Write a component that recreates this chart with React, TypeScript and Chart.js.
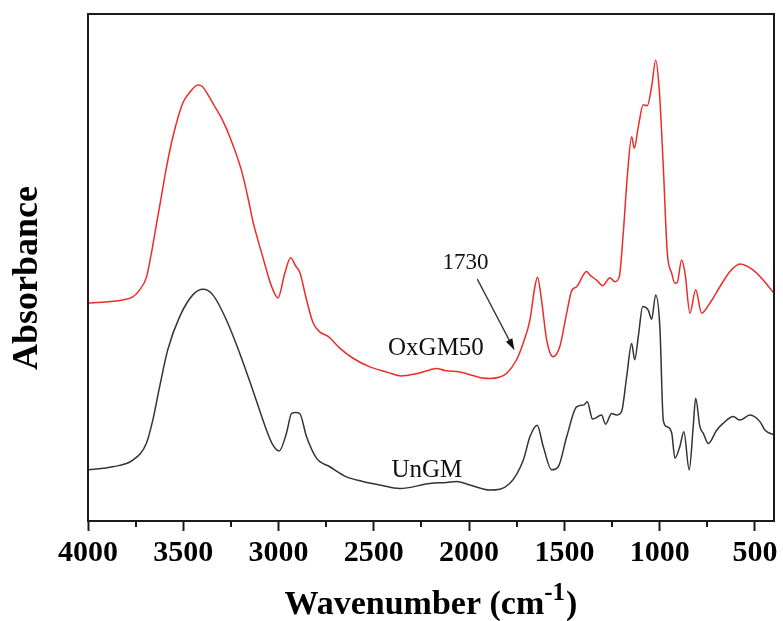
import { useEffect, useRef } from 'react';
import { Chart, registerables } from 'chart.js';

Chart.register(...registerables);

// FTIR spectra, absorbance in arbitrary (offset) units
const OX_WAVENUMBER = [
  4000, 3912, 3818, 3765, 3729, 3693, 3667, 3641, 3615, 3588, 3555, 3503, 3465, 3423, 3400,
  3345, 3300, 3256, 3195, 3162, 3135, 3083, 3036, 3003, 2967, 2937, 2910, 2889, 2853, 2819,
  2784, 2740, 2679, 2609, 2521, 2433, 2355, 2285, 2206, 2171, 2127, 2049, 1928, 1891, 1839,
  1804, 1751, 1716, 1681, 1655, 1641, 1620, 1593, 1559, 1524, 1488, 1462, 1436, 1383, 1366,
  1331, 1299, 1261, 1235, 1212, 1191, 1170, 1147, 1133, 1112, 1086, 1065, 1042, 1021, 1002,
  981, 960, 937, 920, 908, 885, 867, 841, 811, 780, 736, 684, 631, 579, 509, 456, 400,
];
const OX_ABSORBANCE = [
  0.430, 0.432, 0.436, 0.442, 0.456, 0.481, 0.529, 0.585, 0.640, 0.698, 0.757, 0.824, 0.846, 0.860, 0.857,
  0.824, 0.795, 0.758, 0.692, 0.640, 0.592, 0.521, 0.462, 0.440, 0.489, 0.519, 0.503, 0.491, 0.436, 0.391,
  0.373, 0.364, 0.341, 0.321, 0.304, 0.294, 0.286, 0.290, 0.298, 0.301, 0.297, 0.294, 0.282, 0.281, 0.284,
  0.291, 0.318, 0.351, 0.396, 0.462, 0.481, 0.436, 0.357, 0.324, 0.344, 0.410, 0.454, 0.462, 0.492, 0.485,
  0.475, 0.464, 0.480, 0.472, 0.482, 0.568, 0.679, 0.758, 0.735, 0.778, 0.821, 0.819, 0.857, 0.909, 0.850,
  0.699, 0.529, 0.489, 0.469, 0.470, 0.515, 0.489, 0.410, 0.456, 0.410, 0.430, 0.462, 0.492, 0.507, 0.495, 0.475, 0.449,
];

const UN_WAVENUMBER = [
  4000, 3870, 3765, 3693, 3660, 3624, 3582, 3519, 3450, 3396, 3345, 3273, 3204, 3135, 3063,
  3030, 2997, 2958, 2932, 2910, 2889, 2853, 2801, 2731, 2643, 2558, 2469, 2364, 2206, 2118,
  2066, 1996, 1892, 1787, 1716, 1681, 1643, 1611, 1567, 1532, 1488, 1436, 1398, 1380, 1352,
  1305, 1284, 1252, 1226, 1200, 1173, 1147, 1131, 1112, 1089, 1060, 1042, 1021, 999, 981,
  963, 937, 920, 894, 873, 845, 824, 811, 789, 771, 745, 701, 666, 614, 579, 526, 474, 447, 400,
];
const UN_ABSORBANCE = [
  0.101, 0.107, 0.120, 0.154, 0.199, 0.265, 0.337, 0.403, 0.446, 0.457, 0.446, 0.396, 0.331, 0.258, 0.179,
  0.150, 0.138, 0.174, 0.212, 0.214, 0.212, 0.166, 0.124, 0.107, 0.087, 0.078, 0.071, 0.064, 0.074, 0.076,
  0.078, 0.071, 0.061, 0.074, 0.120, 0.166, 0.189, 0.147, 0.101, 0.107, 0.166, 0.225, 0.229, 0.235, 0.201,
  0.209, 0.191, 0.212, 0.209, 0.216, 0.285, 0.350, 0.318, 0.364, 0.423, 0.416, 0.398, 0.446, 0.383, 0.199,
  0.186, 0.174, 0.124, 0.147, 0.176, 0.101, 0.186, 0.242, 0.186, 0.173, 0.153, 0.179, 0.193, 0.206, 0.199, 0.209, 0.196, 0.179, 0.170,
];

const SERIES_NAMES = ['OxGM50', 'UnGM'];
const MAJOR_TICKS = [4000, 3500, 3000, 2500, 2000, 1500, 1000, 500];
const MINOR_TICKS = [3750, 3250, 2750, 2250, 1750, 1250, 750];
const PEAK_NOTE = '1730';
const X_TITLE = 'Wavenumber (cm';
const X_TITLE_SUP = '-1';
const Y_TITLE = 'Absorbance';

const SERIF = '"Liberation Serif", "Times New Roman", serif';

// spectrum labels and the 1730 arrow, placed in data coordinates
const NOTE_POINTS = {
  ox: { x: 2174, y: 0.341 },
  un: { x: 2222, y: 0.099 },
  peak: { x: 2019, y: 0.508 },
  arrowFrom: { x: 1957, y: 0.477 },
  arrowTo: { x: 1762, y: 0.337 },
};

const decorPlugin = {
  id: 'ftirDecor',
  afterDatasetsDraw(chart: any) {
    const { ctx, chartArea, scales } = chart;
    const xs = scales.x;
    const ys = scales.y;
    const px = (v: number) => xs.getPixelForValue(v);
    const py = (v: number) => ys.getPixelForValue(v);
    ctx.save();

    // frame
    ctx.strokeStyle = '#1a1a1a';
    ctx.lineWidth = 2;
    ctx.strokeRect(chartArea.left, chartArea.top, chartArea.right - chartArea.left, chartArea.bottom - chartArea.top);

    // minor ticks
    ctx.lineWidth = 2;
    ctx.beginPath();
    for (const t of MINOR_TICKS) {
      const x = Math.round(px(t));
      ctx.moveTo(x, chartArea.bottom);
      ctx.lineTo(x, chartArea.bottom + 6);
    }
    ctx.stroke();

    // spectrum labels
    ctx.fillStyle = '#111';
    ctx.textAlign = 'center';
    ctx.textBaseline = 'middle';
    ctx.font = `25px ${SERIF}`;
    ctx.fillText(SERIES_NAMES[0], px(NOTE_POINTS.ox.x), py(NOTE_POINTS.ox.y));
    ctx.fillText(SERIES_NAMES[1], px(NOTE_POINTS.un.x), py(NOTE_POINTS.un.y));
    ctx.font = `23px ${SERIF}`;
    ctx.fillText(PEAK_NOTE, px(NOTE_POINTS.peak.x), py(NOTE_POINTS.peak.y));

    // arrow
    const x1 = px(NOTE_POINTS.arrowFrom.x), y1 = py(NOTE_POINTS.arrowFrom.y);
    const x2 = px(NOTE_POINTS.arrowTo.x), y2 = py(NOTE_POINTS.arrowTo.y);
    const ang = Math.atan2(y2 - y1, x2 - x1);
    const head = 12;
    ctx.strokeStyle = '#333';
    ctx.lineWidth = 1.3;
    ctx.beginPath();
    ctx.moveTo(x1, y1);
    ctx.lineTo(x2 - Math.cos(ang) * head * 0.8, y2 - Math.sin(ang) * head * 0.8);
    ctx.stroke();
    ctx.fillStyle = '#111';
    ctx.beginPath();
    ctx.moveTo(x2, y2);
    ctx.lineTo(x2 - head * Math.cos(ang - 0.3), y2 - head * Math.sin(ang - 0.3));
    ctx.lineTo(x2 - head * Math.cos(ang + 0.3), y2 - head * Math.sin(ang + 0.3));
    ctx.closePath();
    ctx.fill();

    // axis titles
    ctx.fillStyle = '#000';
    ctx.textBaseline = 'alphabetic';
    ctx.textAlign = 'left';
    const mainFont = `bold 34px ${SERIF}`;
    const supFont = `bold 25px ${SERIF}`;
    ctx.font = mainFont;
    const wMain = ctx.measureText(X_TITLE).width;
    const wClose = ctx.measureText(')').width;
    ctx.font = supFont;
    const wSup = ctx.measureText(X_TITLE_SUP).width;
    const total = wMain + wSup + 1 + wClose;
    let tx = (chartArea.left + chartArea.right) / 2 - total / 2;
    const base = 614;
    ctx.font = mainFont;
    ctx.fillText(X_TITLE, tx, base);
    tx += wMain;
    ctx.font = supFont;
    ctx.fillText(X_TITLE_SUP, tx, base - 14);
    tx += wSup + 1;
    ctx.font = mainFont;
    ctx.fillText(')', tx, base);

    ctx.save();
    ctx.translate(28, 278);
    ctx.rotate(-Math.PI / 2);
    ctx.textAlign = 'center';
    ctx.textBaseline = 'middle';
    ctx.font = `bold 36px ${SERIF}`;
    ctx.fillText(Y_TITLE, 0, 0);
    ctx.restore();

    ctx.restore();
  },
};

export default function App() {
  const canvasRef = useRef<HTMLCanvasElement | null>(null);

  useEffect(() => {
    const canvas = canvasRef.current;
    if (!canvas) return;
    const chart = new Chart(canvas, {
      type: 'line',
      data: {
        datasets: [
          {
            label: SERIES_NAMES[0],
            data: OX_WAVENUMBER.map((x, i) => ({ x, y: OX_ABSORBANCE[i] })),
            borderColor: '#ee2b2b',
            borderWidth: 1.5,
            pointRadius: 0,
            cubicInterpolationMode: 'monotone',
            fill: false,
          },
          {
            label: SERIES_NAMES[1],
            data: UN_WAVENUMBER.map((x, i) => ({ x, y: UN_ABSORBANCE[i] })),
            borderColor: '#333333',
            borderWidth: 1.5,
            pointRadius: 0,
            cubicInterpolationMode: 'monotone',
            fill: false,
          },
        ],
      },
      options: {
        responsive: false,
        animation: false,
        devicePixelRatio: 1,
        layout: { padding: { top: 14, right: 9, left: 88, bottom: 0 } },
        plugins: {
          legend: { display: false },
          tooltip: { enabled: false },
          title: { display: false },
        },
        scales: {
          x: {
            type: 'linear',
            reverse: true,
            min: 400,
            max: 4000,
            afterBuildTicks: (scale: any) => {
              scale.ticks = MAJOR_TICKS.map((value) => ({ value }));
            },
            afterFit: (scale: any) => {
              scale.height = 100;
            },
            border: { display: false },
            grid: {
              display: true,
              drawOnChartArea: false,
              drawTicks: true,
              tickLength: 10,
              tickWidth: 2,
              tickColor: '#1a1a1a',
            },
            ticks: {
              autoSkip: false,
              maxRotation: 0,
              minRotation: 0,
              padding: 4,
              color: '#000',
              font: { family: SERIF, weight: 'bold', size: 30 },
              callback: (v: any) => String(v),
            },
          },
          y: {
            display: false,
            min: 0,
            max: 1,
          },
        },
      },
      plugins: [decorPlugin],
    } as any);
    return () => chart.destroy();
  }, []);

  return (
    <div style={{ position: 'absolute', left: 0, top: 0, width: 783, height: 621, background: '#fff' }}>
      <canvas ref={canvasRef} width={783} height={621} />
    </div>
  );
}
